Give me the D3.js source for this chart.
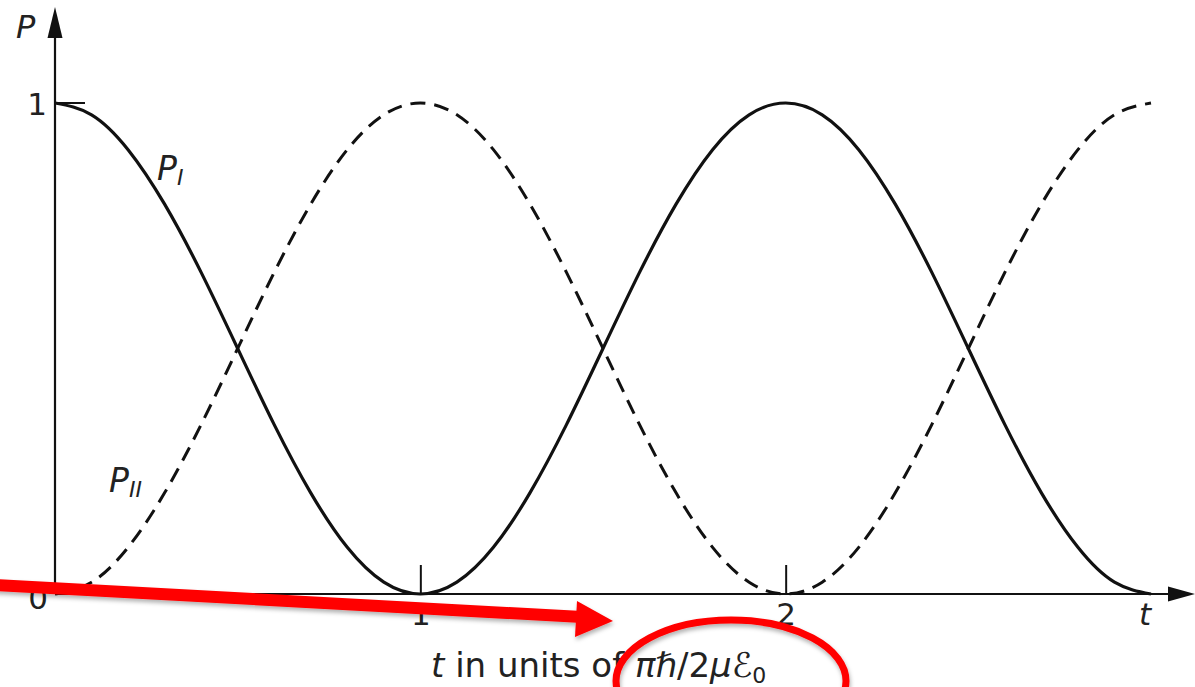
<!DOCTYPE html>
<html>
<head>
<meta charset="utf-8">
<script src="https://d3js.org/d3.v7.min.js"></script>
<style>
  body { margin: 0; background: #fff; }
  text { font-family: 'DejaVu Sans', sans-serif; fill: #222; }
</style>
</head>
<body>
<div id="chartContainer"></div>
<script>
  // values, t in steps of 0.1
  var tValues = d3.range(31).map(function (i) { return i / 10; });
  var pI  = [1.000,0.976,0.905,0.794,0.655,0.500,0.345,0.206,0.095,0.024,0.000,
             0.024,0.095,0.206,0.345,0.500,0.655,0.794,0.905,0.976,1.000,
             0.976,0.905,0.794,0.655,0.500,0.345,0.206,0.095,0.024,0.000];
  var pII = [0.000,0.024,0.095,0.206,0.345,0.500,0.655,0.794,0.905,0.976,1.000,
             0.976,0.905,0.794,0.655,0.500,0.345,0.206,0.095,0.024,0.000,
             0.024,0.095,0.206,0.345,0.500,0.655,0.794,0.905,0.976,1.000];
  var xTicks = [1, 2];

  var width = 1195, height = 687;

  var svg = d3.select('#chartContainer')
    .append('svg')
      .attr('width', width)
      .attr('height', height);

  var defs = svg.append('defs');
  defs.append('filter')
      .attr('id', 'shadow')
      .attr('x', '-10%').attr('y', '-50%')
      .attr('width', '120%').attr('height', '200%')
    .append('feDropShadow')
      .attr('dx', 1).attr('dy', 3)
      .attr('stdDeviation', 2)
      .attr('flood-color', '#000')
      .attr('flood-opacity', 0.3);

  var x = d3.scaleLinear().domain([0, 3]).range([55, 1151]);
  var y = d3.scaleLinear().domain([0, 1]).range([594, 103]);

  var x0 = x(0), y0 = y(0);

  // axes with arrow heads
  svg.append('line')
    .attr('x1', x0).attr('y1', y0)
    .attr('x2', x0).attr('y2', 30)
    .attr('stroke', '#111').attr('stroke-width', 2.2);
  svg.append('path')
    .attr('d', 'M' + x0 + ',7 L' + (x0 - 7.5) + ',38 L' + (x0 + 7.5) + ',38 Z')
    .attr('fill', '#111');

  svg.append('line')
    .attr('x1', x0).attr('y1', y0)
    .attr('x2', 1175).attr('y2', y0)
    .attr('stroke', '#111').attr('stroke-width', 2.2);
  svg.append('path')
    .attr('d', 'M1195,' + y0 + ' L1168,' + (y0 - 7.5) + ' L1168,' + (y0 + 7.5) + ' Z')
    .attr('fill', '#111');

  // x ticks (upward) and labels
  var xAxis = d3.axisBottom(x)
    .tickValues(xTicks)
    .tickSizeInner(-29)
    .tickSizeOuter(0)
    .tickFormat(d3.format('d'));
  var gx = svg.append('g')
    .attr('transform', 'translate(0,' + y0 + ')')
    .call(xAxis);
  gx.select('.domain').remove();
  gx.selectAll('.tick line').attr('stroke', '#111').attr('stroke-width', 2);
  gx.selectAll('.tick text')
    .attr('font-size', 31)
    .attr('font-family', "'DejaVu Sans', sans-serif")
    .attr('fill', '#222')
    .attr('dy', null)
    .attr('y', 31);

  // y tick at 1
  svg.append('line')
    .attr('x1', x0).attr('y1', y(1))
    .attr('x2', x0 + 30).attr('y2', y(1))
    .attr('stroke', '#111').attr('stroke-width', 2);
  svg.append('text')
    .attr('x', 47).attr('y', y(1) + 12)
    .attr('text-anchor', 'end')
    .attr('font-size', 31)
    .text('1');
  svg.append('text')
    .attr('x', 48).attr('y', y0 + 15)
    .attr('text-anchor', 'end')
    .attr('font-size', 31)
    .text('0');

  // axis letters
  svg.append('text')
    .attr('x', 16).attr('y', 38)
    .attr('font-size', 32)
    .attr('font-style', 'italic')
    .text('P');
  svg.append('text')
    .attr('x', 1139).attr('y', 625)
    .attr('font-size', 31)
    .attr('font-style', 'italic')
    .text('t');

  // curves
  var line = d3.line()
    .x(function (d) { return x(d[0]); })
    .y(function (d) { return y(d[1]); })
    .curve(d3.curveNatural);

  svg.append('path')
    .datum(tValues.map(function (t, i) { return [t, pII[i]]; }))
    .attr('d', line)
    .attr('fill', 'none')
    .attr('stroke', '#111')
    .attr('stroke-width', 3)
    .attr('stroke-dasharray', '15,9');

  svg.append('path')
    .datum(tValues.map(function (t, i) { return [t, pI[i]]; }))
    .attr('d', line)
    .attr('fill', 'none')
    .attr('stroke', '#111')
    .attr('stroke-width', 3.2);

  // curve labels
  var lI = svg.append('text')
    .attr('x', 157).attr('y', 180)
    .attr('font-size', 33)
    .attr('font-style', 'italic');
  lI.append('tspan').text('P');
  lI.append('tspan').attr('font-size', 22).attr('dy', 5).text('I');

  var lII = svg.append('text')
    .attr('x', 109).attr('y', 492)
    .attr('font-size', 33)
    .attr('font-style', 'italic');
  lII.append('tspan').text('P');
  lII.append('tspan').attr('font-size', 22).attr('dy', 5).text('II');

  // x axis title
  var title = svg.append('text')
    .attr('x', 431).attr('y', 677)
    .attr('font-size', 34);
  title.append('tspan').attr('font-style', 'italic').text('t');
  title.append('tspan').text(' in units of ');
  title.append('tspan').attr('font-style', 'italic').text('π');
  title.append('tspan').text('ℏ/2');
  title.append('tspan').attr('font-style', 'italic').text('μℰ');
  title.append('tspan').attr('font-size', 22).attr('dy', 6).text('0');

  // red annotation
  var ann = svg.append('g').attr('filter', 'url(#shadow)');
  ann.append('line')
    .attr('x1', -5).attr('y1', 585)
    .attr('x2', 582).attr('y2', 617)
    .attr('stroke', '#f00')
    .attr('stroke-width', 12);
  ann.append('path')
    .attr('d', 'M613,621 L577,601 L575,637 Z')
    .attr('fill', '#f00');
  ann.append('ellipse')
    .attr('cx', 731).attr('cy', 681)
    .attr('rx', 115).attr('ry', 61)
    .attr('fill', 'none')
    .attr('stroke', '#f00')
    .attr('stroke-width', 7);
</script>
</body>
</html>
